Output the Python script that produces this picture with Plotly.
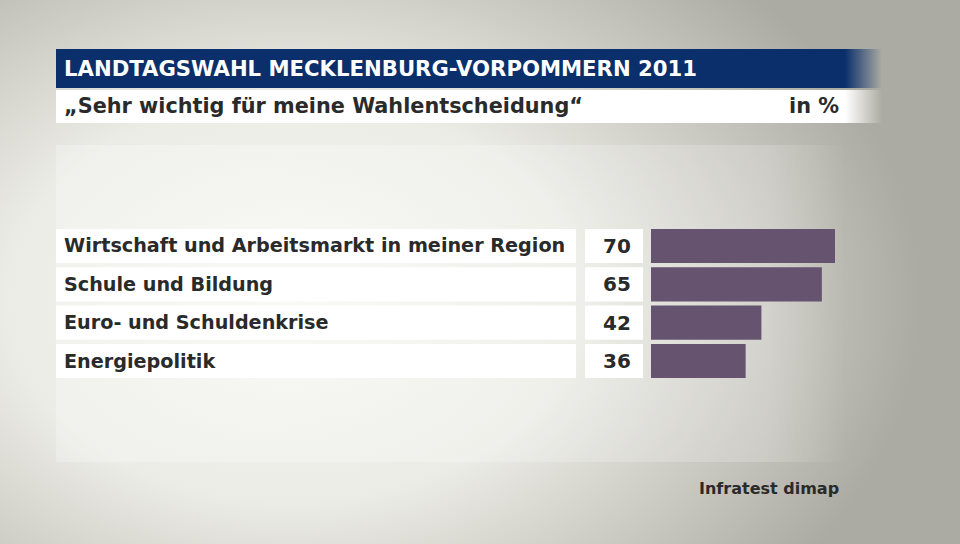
import base64
import plotly.graph_objects as go

# ---- data ----
categories = ["Wirtschaft und Arbeitsmarkt in meiner Region", "Schule und Bildung",
              "Euro- und Schuldenkrise", "Energiepolitik"]
values = [70, 65, 42, 36]
title = "LANDTAGSWAHL MECKLENBURG-VORPOMMERN 2011"
subtitle = "„Sehr wichtig für meine Wahlentscheidung“"
unit = "in %"
source = "Infratest dimap"

W, H = 960, 544
FONT = "DejaVu Sans"
TXT = "#2a2a2a"
BAR = "#655370"
NAVY = "#0a2f6b"

svg = f'''<svg xmlns="http://www.w3.org/2000/svg" width="{W}" height="{H}" viewBox="0 0 {W} {H}">
<defs>
<radialGradient id="bg" cx="290" cy="300" r="600" gradientUnits="userSpaceOnUse" gradientTransform="translate(290 300) scale(1.05 0.75) translate(-290 -300)">
<stop offset="0" stop-color="#f7f7f3"/><stop offset="0.45" stop-color="#ecece6"/><stop offset="1" stop-color="#acaba3"/>
</radialGradient>
<linearGradient id="nv" x1="0" x2="1" y1="0" y2="0">
<stop offset="0" stop-color="{NAVY}"/><stop offset="0.955" stop-color="{NAVY}"/><stop offset="1" stop-color="{NAVY}" stop-opacity="0"/>
</linearGradient>
<linearGradient id="wh" x1="0" x2="1" y1="0" y2="0">
<stop offset="0" stop-color="#ffffff"/><stop offset="0.955" stop-color="#ffffff"/><stop offset="1" stop-color="#ffffff" stop-opacity="0"/>
</linearGradient>
<linearGradient id="pn" x1="0" x2="1" y1="0" y2="0">
<stop offset="0" stop-color="#ffffff" stop-opacity="0.25"/><stop offset="0.9" stop-color="#ffffff" stop-opacity="0.2"/><stop offset="1" stop-color="#ffffff" stop-opacity="0"/>
</linearGradient>
</defs>
<rect width="{W}" height="{H}" fill="url(#bg)"/>
<rect x="56" y="145" width="790" height="317" fill="url(#pn)"/>
<rect x="56" y="49" width="826" height="39" fill="url(#nv)"/>
<rect x="56" y="90" width="826" height="33" fill="url(#wh)"/>
</svg>'''
src = "data:image/svg+xml;base64," + base64.b64encode(svg.encode()).decode()

fig = go.Figure()
fig.add_trace(go.Bar(
    x=values, y=categories, orientation="h", marker=dict(color=BAR, line=dict(width=0)),
    hoverinfo="skip", showlegend=False))

x0 = 651 / W
x70 = 835 / W
top_px, bot_px = 226.8, 380.2
fig.update_layout(
    width=W, height=H, margin=dict(l=0, r=0, t=0, b=0),
    paper_bgcolor="rgba(0,0,0,0)", plot_bgcolor="rgba(0,0,0,0)",
    bargap=0.11,
    xaxis=dict(domain=[x0, x70], range=[0, 70], visible=False, fixedrange=True),
    yaxis=dict(domain=[(H - bot_px) / H, (H - top_px) / H], autorange="reversed",
               categoryorder="array", categoryarray=categories, visible=False, fixedrange=True),
    images=[dict(source=src, xref="paper", yref="paper", x=0, y=1, sizex=1, sizey=1,
                 xanchor="left", yanchor="top", sizing="stretch", layer="below")],
)

shapes = []
annotations = []
for i, (c, v) in enumerate(zip(categories, values)):
    shapes.append(dict(type="rect", xref="paper", yref="y", x0=56 / W, x1=576 / W,
                       y0=i - 0.445, y1=i + 0.445, fillcolor="white", line=dict(width=0), layer="below"))
    shapes.append(dict(type="rect", xref="paper", yref="y", x0=585 / W, x1=643 / W,
                       y0=i - 0.445, y1=i + 0.445, fillcolor="white", line=dict(width=0), layer="below"))
    annotations.append(dict(text=c, xref="paper", yref="y", x=62 / W, y=i, xanchor="left",
                            yanchor="middle", showarrow=False,
                            font=dict(family=FONT, size=19.2, color=TXT, weight="bold")))
    annotations.append(dict(text=str(v), xref="paper", yref="y", x=633 / W, y=i, xanchor="right",
                            yanchor="middle", showarrow=False,
                            font=dict(family=FONT, size=20, color=TXT, weight="bold")))

annotations += [
    dict(text=title, xref="paper", yref="paper", x=62 / W, y=1 - 68.5 / H, xanchor="left",
         yanchor="middle", showarrow=False, font=dict(family=FONT, size=21.2, color="white", weight="bold")),
    dict(text=subtitle, xref="paper", yref="paper", x=62 / W, y=1 - 106 / H, xanchor="left",
         yanchor="middle", showarrow=False, font=dict(family=FONT, size=20.8, color=TXT, weight="bold")),
    dict(text=unit, xref="paper", yref="paper", x=841 / W, y=1 - 106 / H, xanchor="right",
         yanchor="middle", showarrow=False, font=dict(family=FONT, size=20.8, color=TXT, weight="bold")),
    dict(text=source, xref="paper", yref="paper", x=841 / W, y=1 - 488 / H, xanchor="right",
         yanchor="middle", showarrow=False, font=dict(family=FONT, size=16, color=TXT, weight="bold")),
]
fig.update_layout(shapes=shapes, annotations=annotations)
fig.write_html("out.html", config={"displayModeBar": False, "staticPlot": True},
               post_script="document.body.style.margin='0';")
